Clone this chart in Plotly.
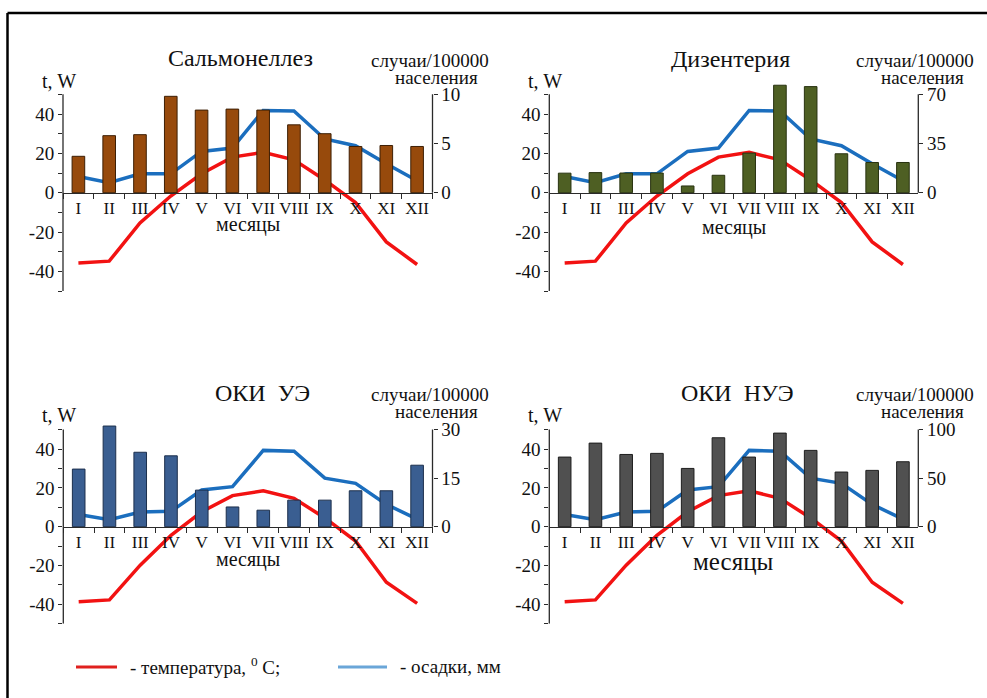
import plotly.graph_objects as go

W, H = 987, 698

months = ["I", "II", "III", "IV", "V", "VI", "VII", "VIII", "IX", "X", "XI", "XII"]
titles = ["Сальмонеллез", "Дизентерия", "ОКИ  УЭ", "ОКИ  НУЭ"]

# temperature (°C) and precipitation (mm), left axis
temp_top = [-35.7, -34.8, -15.4, -1.7, 9.6, 18.1, 20.5, 16.7, 6.5, -5.0, -25.0, -36.5]
precip_top = [8.2, 5.1, 9.6, 9.6, 21.0, 22.7, 41.8, 41.5, 27.3, 23.9, 14.7, 6.1]
temp_bottom = [-38.6, -37.7, -19.8, -4.4, 7.7, 16.0, 18.5, 14.6, 4.5, -7.4, -28.6, -39.5]
precip_bottom = [6.3, 3.6, 7.6, 7.9, 18.9, 20.6, 39.3, 38.9, 25.0, 22.3, 11.5, 3.9]

# cases per 100000 population, right axis
salmonella = [3.7, 5.8, 5.9, 9.8, 8.4, 8.5, 8.4, 6.9, 6.0, 4.7, 4.8, 4.7]
dysentery = [13.9, 14.3, 14.0, 14.0, 4.8, 12.4, 28.2, 76.5, 75.5, 27.7, 21.5, 21.5]
oki_ue = [17.8, 31.1, 23.0, 21.9, 11.3, 6.1, 5.1, 8.2, 8.2, 11.1, 11.1, 19.0]
oki_nue = [71.7, 86.1, 74.4, 75.5, 60.0, 91.6, 71.7, 96.4, 78.6, 56.3, 58.0, 66.9]

right_max = [10, 70, 30, 100]
left_ticks = [-50, -40, -30, -20, -10, 0, 10, 20, 30, 40, 50]
left_labels = ["", "-40", "", "-20", "", "0", "", "20", "", "40", ""]

FONT = "Liberation Serif, DejaVu Serif, serif"
AX = "#2a2a2a"
YMIN, YMAX = -50, 57

panels = [
    dict(bars=salmonella, temp=temp_top, precip=precip_top, color="#974A0C", edge="#3d1f05",
         x0=63.0, x1=432.5, yzero=192.7, ppu=1.967, title_xy=(240, 58), mes_dy=32, mes_size=20),
    dict(bars=dysentery, temp=temp_top, precip=precip_top, color="#4E5F23", edge="#283210",
         x0=549.3, x1=918.3, yzero=192.7, ppu=1.967, title_xy=(730, 59), mes_dy=35, mes_size=20),
    dict(bars=oki_ue, temp=temp_bottom, precip=precip_bottom, color="#3A5E91", edge="#1c2f4c",
         x0=63.3, x1=432.5, yzero=526.7, ppu=1.942, title_xy=(262, 393), mes_dy=33, mes_size=20),
    dict(bars=oki_nue, temp=temp_bottom, precip=precip_bottom, color="#505050", edge="#1e1e1e",
         x0=549.3, x1=918.3, yzero=526.7, ppu=1.942, title_xy=(737, 393), mes_dy=35, mes_size=25),
]


def px(x):
    return x / W


def py(y):
    return 1 - y / H


fig = go.Figure()
layout = dict(width=W, height=H, margin=dict(l=0, r=0, t=0, b=0),
              paper_bgcolor="white", plot_bgcolor="rgba(0,0,0,0)",
              showlegend=False, font=dict(family=FONT, color="#111"))
shapes = []
annotations = []

for i, p in enumerate(panels):
    k = i + 1
    xa = "x" if k == 1 else f"x{k}"
    yl = "y" if k == 1 else f"y{2 * k - 1}"
    yr = f"y{2 * k}"
    rmax = right_max[i]
    top_px = p["yzero"] - YMAX * p["ppu"]
    bot_px = p["yzero"] - YMIN * p["ppu"]
    ydom = [py(bot_px), py(top_px)]

    fig.add_trace(go.Bar(x=months, y=p["bars"], xaxis=xa, yaxis=yr, width=0.41,
                         marker=dict(color=p["color"], line=dict(color=p["edge"], width=1))))
    fig.add_trace(go.Scatter(x=months, y=p["precip"], xaxis=xa, yaxis=yl, mode="lines",
                             line=dict(color="#1B6EBE", width=3.5)))
    fig.add_trace(go.Scatter(x=months, y=p["temp"], xaxis=xa, yaxis=yl, mode="lines",
                             line=dict(color="#F21212", width=3.5)))

    xname = "xaxis" if k == 1 else f"xaxis{k}"
    ylname = "yaxis" if k == 1 else f"yaxis{2 * k - 1}"
    yrname = f"yaxis{2 * k}"
    layout[xname] = dict(domain=[px(p["x0"]), px(p["x1"])], type="category",
                         range=[-0.5, 11.5], anchor="free", position=py(p["yzero"]),
                         showline=True, linecolor=AX, linewidth=1.3, showgrid=False,
                         ticks="outside", tickson="boundaries", ticklen=5, tickcolor=AX,
                         tickangle=0,
                         tickfont=dict(family=FONT, size=17, color="#111"))
    layout[ylname] = dict(domain=ydom, range=[YMIN, YMAX], anchor=xa, showgrid=False,
                          zeroline=False, showline=False, ticks="outside", ticklen=4,
                          tickcolor=AX, tickvals=left_ticks, ticktext=left_labels,
                          tickfont=dict(family=FONT, size=19, color="#111"))
    half = rmax / 2
    half_txt = str(int(half)) if half == int(half) else str(half)
    layout[yrname] = dict(range=[-rmax, rmax * YMAX / 50], anchor=xa, overlaying=yl,
                          side="right", showgrid=False, zeroline=False, showline=False,
                          ticks="outside", ticklen=4, tickcolor=AX,
                          tickvals=[0, half, rmax],
                          ticktext=["0", half_txt, str(rmax)],
                          tickfont=dict(family=FONT, size=19, color="#111"))

    # axis lines
    shapes.append(dict(type="line", xref=f"{xa} domain", yref=yl, x0=0, x1=0, y0=-50, y1=50,
                       line=dict(color=AX, width=1.3)))
    shapes.append(dict(type="line", xref=f"{xa} domain", yref=yr, x0=1, x1=1, y0=0, y1=rmax,
                       line=dict(color=AX, width=1.3)))

    dy = p["yzero"] - 192.7
    tx, ty = p["title_xy"]
    annotations.append(dict(text=titles[i], x=px(tx), y=py(ty), xref="paper", yref="paper",
                            showarrow=False, xanchor="center", yanchor="middle",
                            font=dict(family=FONT, size=24, color="#111")))
    annotations.append(dict(text="случаи/100000", x=px(p["x1"] - 3), y=py(60 + dy), xref="paper",
                            yref="paper", showarrow=False, xanchor="center", yanchor="middle",
                            font=dict(family=FONT, size=19, color="#111")))
    annotations.append(dict(text="населения", x=px(p["x1"] + 4), y=py(77 + dy), xref="paper",
                            yref="paper", showarrow=False, xanchor="center", yanchor="middle",
                            font=dict(family=FONT, size=19, color="#111")))
    annotations.append(dict(text="t, W", x=px(p["x0"] - 4), y=py(81 + dy), xref="paper",
                            yref="paper", showarrow=False, xanchor="center", yanchor="middle",
                            font=dict(family=FONT, size=20, color="#111")))
    annotations.append(dict(text="месяцы", x=px((p["x0"] + p["x1"]) / 2),
                            y=py(p["yzero"] + p["mes_dy"]), xref="paper", yref="paper",
                            showarrow=False, xanchor="center", yanchor="middle",
                            font=dict(family=FONT, size=p["mes_size"], color="#111")))

# legend
shapes.append(dict(type="line", xref="paper", yref="paper", x0=px(76), x1=px(117),
                   y0=py(667), y1=py(667), line=dict(color="#E0201E", width=3)))
shapes.append(dict(type="line", xref="paper", yref="paper", x0=px(338), x1=px(387),
                   y0=py(667), y1=py(667), line=dict(color="#6AA6D8", width=3)))
annotations.append(dict(text="- температура, <sup>0</sup> C;", x=px(128), y=py(666), xref="paper",
                        yref="paper", showarrow=False, xanchor="left", yanchor="middle",
                        font=dict(family=FONT, size=19, color="#111")))
annotations.append(dict(text="- осадки, мм", x=px(398), y=py(666), xref="paper",
                        yref="paper", showarrow=False, xanchor="left", yanchor="middle",
                        font=dict(family=FONT, size=19, color="#111")))

# frame
shapes.append(dict(type="line", xref="paper", yref="paper", x0=px(7.5), x1=1,
                   y0=py(13), y1=py(13), line=dict(color="black", width=2.5)))
shapes.append(dict(type="line", xref="paper", yref="paper", x0=px(7.5), x1=px(7.5),
                   y0=py(13), y1=0, line=dict(color="black", width=2.5)))

layout["shapes"] = shapes
layout["annotations"] = annotations
fig.update_layout(**layout)
fig.write_html("out.html", config={"displayModeBar": False},
               post_script="document.body.style.margin='0px';document.body.style.overflow='hidden';")
